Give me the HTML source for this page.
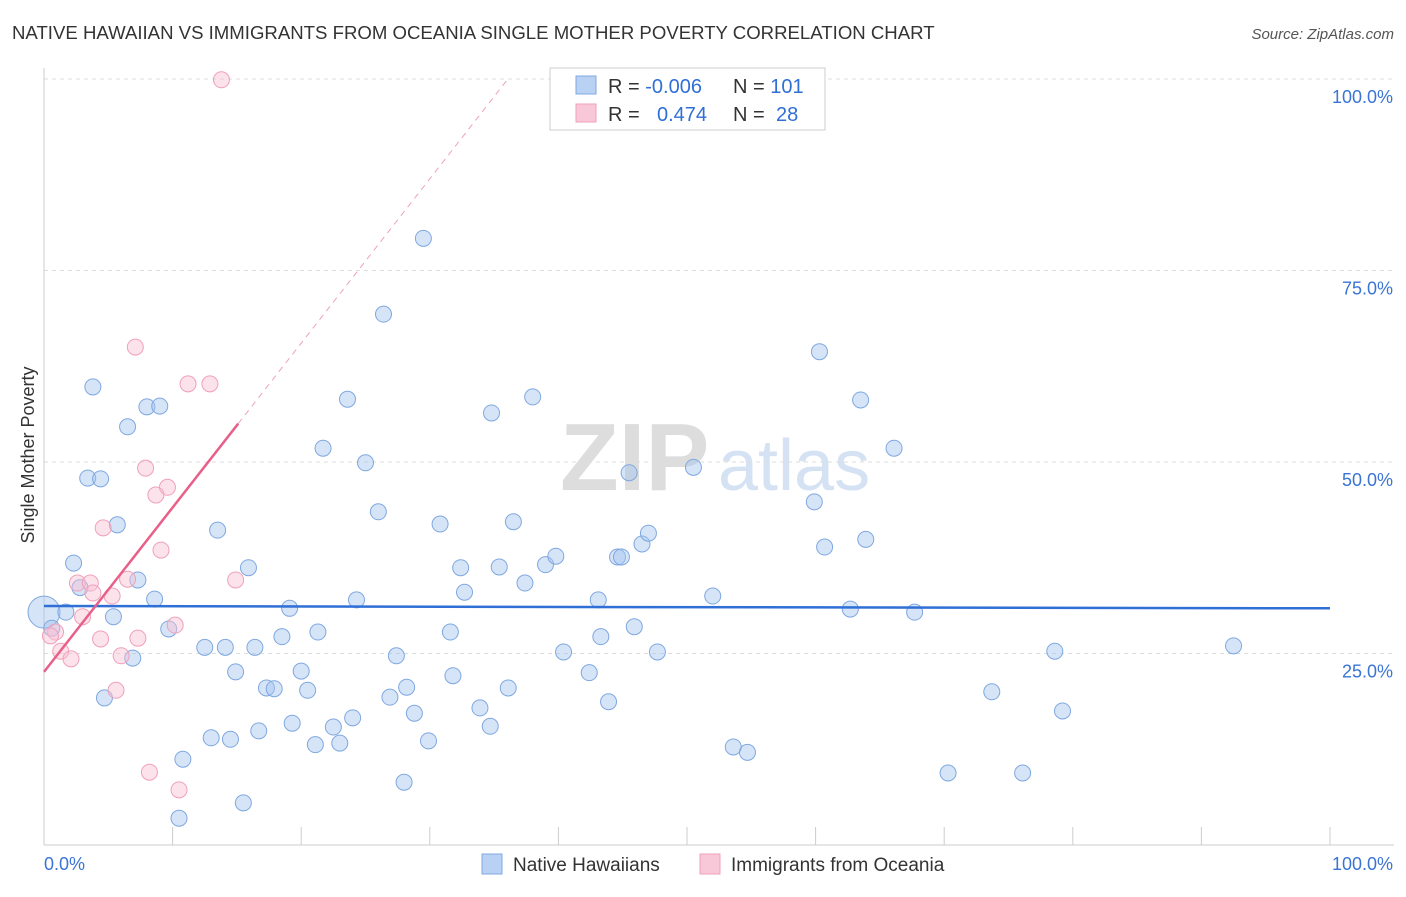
<!DOCTYPE html>
<html><head><meta charset="utf-8">
<style>
body{margin:0;background:#fff;font-family:"Liberation Sans",sans-serif;}
svg text{font-family:"Liberation Sans",sans-serif;}
</style></head>
<body>
<svg id="chart" width="1406" height="892" xmlns="http://www.w3.org/2000/svg">
<text x="12" y="39" font-size="18.6" fill="#333">NATIVE HAWAIIAN VS IMMIGRANTS FROM OCEANIA SINGLE MOTHER POVERTY CORRELATION CHART</text>
<text x="1394" y="39" font-size="15" fill="#555" text-anchor="end" font-style="italic">Source: ZipAtlas.com</text>
<text x="560" y="490" font-size="96" fill="#ddd" font-family="Liberation Serif,serif" font-weight="bold">ZIP</text>
<text x="718" y="490" font-size="72" fill="#d4e2f4">atlas</text>
<text transform="translate(34,455) rotate(-90)" font-size="18" fill="#333" text-anchor="middle">Single Mother Poverty</text>
<g id="grid"></g>
<g id="axes"></g>
<g id="marks"></g>
<g>
<rect x="550" y="68" width="275" height="62" fill="#fff" stroke="#ccc"/>
<rect x="576" y="76" width="20" height="18" fill="#b9d1f3" stroke="#7fa8e0"/>
<rect x="576" y="104" width="20" height="18" fill="#f9c8d8" stroke="#f0a0bb"/>
<text x="608" y="93" font-size="20" fill="#333">R = <tspan fill="#2f6fd6">-0.006</tspan><tspan x="733">N = </tspan><tspan fill="#2f6fd6">101</tspan></text>
<text x="608" y="121" font-size="20" fill="#333">R = <tspan x="657" fill="#2f6fd6">0.474</tspan><tspan x="733">N = </tspan><tspan x="776" fill="#2f6fd6">28</tspan></text>
</g>
<g>
<rect x="482" y="854" width="20" height="20" fill="#b9d1f3" stroke="#7fa8e0"/>
<text x="513" y="871" font-size="19" fill="#333">Native Hawaiians</text>
<rect x="700" y="854" width="20" height="20" fill="#f9c8d8" stroke="#f0a0bb"/>
<text x="731" y="871" font-size="19" fill="#333">Immigrants from Oceania</text>
</g>
</svg>
<script>
const blueX=[0,0.6,1.7,2.3,2.8,3.4,4.4,3.8,5.4,5.7,4.7,6.5,6.9,7.3,8.0,9.0,8.6,9.7,10.5,10.8,12.5,13.0,13.5,14.1,14.5,14.9,15.5,15.9,16.4,16.7,17.3,17.9,18.5,19.1,19.3,20.0,20.5,21.1,21.3,21.7,22.5,23.0,23.6,24.0,25.0,24.3,26.0,26.9,27.4,28.0,28.2,28.8,29.5,29.9,26.4,30.8,31.6,31.8,32.4,32.7,33.9,34.7,34.8,35.4,36.1,36.5,37.4,38.0,39.0,39.8,40.4,42.4,43.1,43.3,43.9,44.6,44.9,45.5,45.9,46.5,47.0,47.7,50.5,52.0,53.6,54.7,59.9,60.3,60.7,62.7,63.5,63.9,66.1,67.7,70.3,73.7,76.1,78.6,79.2,92.5];
const blueY=[30.4,28.3,30.4,36.8,33.6,47.9,47.8,59.8,29.8,41.8,19.2,54.6,24.4,34.6,57.2,57.3,32.1,28.2,3.5,11.2,25.8,14.0,41.1,25.8,13.8,22.6,5.5,36.2,25.8,14.9,20.5,20.4,27.2,30.9,15.9,22.7,20.2,13.1,27.8,51.8,15.4,13.3,58.2,16.6,49.9,32.0,43.5,19.3,24.7,8.2,20.6,17.2,79.2,13.6,69.3,41.9,27.8,22.1,36.2,33.0,17.9,15.5,56.4,36.3,20.5,42.2,34.2,58.5,36.6,37.7,25.2,22.5,32.0,27.2,18.7,37.6,37.6,48.6,28.5,39.3,40.7,25.2,49.3,32.5,12.8,12.1,44.8,64.4,38.9,30.8,58.1,39.9,51.8,30.4,9.4,20.0,9.4,25.3,17.5,26.0];
const pinkX=[13.8,7.1,11.2,12.9,7.9,9.6,8.7,4.6,9.1,14.9,2.6,3.6,6.5,5.3,3.8,3.0,10.2,0.9,0.5,4.4,7.3,1.3,6.0,2.1,5.6,8.2,10.5];
const pinkY=[99.9,65.0,60.2,60.2,49.2,46.7,45.7,41.4,38.5,34.6,34.2,34.2,34.7,32.5,32.9,29.8,28.7,27.8,27.3,26.9,27.0,25.3,24.7,24.3,20.2,9.5,7.2];
const blueTrend=[31.2,30.9];
const pinkTrend=[22.6,55.0];
const pinkTrendEndX=15.1;
const yTicks=[25,50,75,100];
const yTickLabels=["25.0%","50.0%","75.0%","100.0%"];
const xTicks=[0,10,20,30,40,50,60,70,80,90,100];

const NS="http://www.w3.org/2000/svg";
const X0=44,X1=1330,Y0=845,Y100=79;
const sx=v=>X0+(X1-X0)*v/100;
const sy=v=>Y0-(Y0-Y100)*v/100;
function mk(tag,attrs,parent){const e=document.createElementNS(NS,tag);for(const k in attrs)e.setAttribute(k,attrs[k]);parent.appendChild(e);return e;}
const grid=document.getElementById('grid'),axes=document.getElementById('axes'),marks=document.getElementById('marks');
yTicks.forEach((t,i)=>{
  const l=mk('line',{x1:X0,x2:1394,y1:sy(t),y2:sy(t),stroke:'#ddd','stroke-dasharray':'4,4'},grid);
  
  
  const tx=mk('text',{x:1393,y:sy(t)+24,'font-size':18,fill:'#3a74d4','text-anchor':'end'},axes);
  tx.textContent=yTickLabels[i];
  
  
});
const ya=mk('line',{x1:X0,x2:X0,y1:68,y2:Y0,stroke:'#ccc'},axes);


const xa=mk('line',{x1:X0,x2:1394,y1:Y0,y2:Y0,stroke:'#ccc'},axes);


xTicks.forEach(t=>{
  const l=mk('line',{x1:sx(t),x2:sx(t),y1:Y0,y2:Y0-18,stroke:'#ccc'},axes);
  
  
});
const xl0=mk('text',{x:44,y:870,'font-size':18,fill:'#3a74d4'},axes);xl0.textContent='0.0%';


const xl1=mk('text',{x:1393,y:870,'font-size':18,fill:'#3a74d4','text-anchor':'end'},axes);xl1.textContent='100.0%';



blueX.forEach((x,i)=>{
  const c=mk('circle',{cx:sx(x),cy:sy(blueY[i]),r:i===0?16:8,fill:'rgba(164,196,240,0.45)',stroke:'#7fa8e0','stroke-width':1},marks);
  
  
});
pinkX.forEach((x,i)=>{
  const c=mk('circle',{cx:sx(x),cy:sy(pinkY[i]),r:8,fill:'rgba(248,190,210,0.45)',stroke:'#f0a0bb','stroke-width':1},marks);
  
  
});
const bt=mk('line',{x1:sx(0),x2:sx(100),y1:sy(blueTrend[0]),y2:sy(blueTrend[1]),stroke:'#2f6fd6','stroke-width':2.5},marks);


const slope=(pinkTrend[1]-pinkTrend[0])/pinkTrendEndX;
const xAt100=(100-pinkTrend[0])/slope;
const pd=mk('line',{x1:sx(pinkTrendEndX),x2:sx(xAt100),y1:sy(pinkTrend[1]),y2:sy(100),stroke:'#f0a0bb','stroke-width':1,'stroke-dasharray':'6,5'},marks);


const pt=mk('line',{x1:sx(0),x2:sx(pinkTrendEndX),y1:sy(pinkTrend[0]),y2:sy(pinkTrend[1]),stroke:'#e8608a','stroke-width':2.5},marks);


</script>
</body></html>
